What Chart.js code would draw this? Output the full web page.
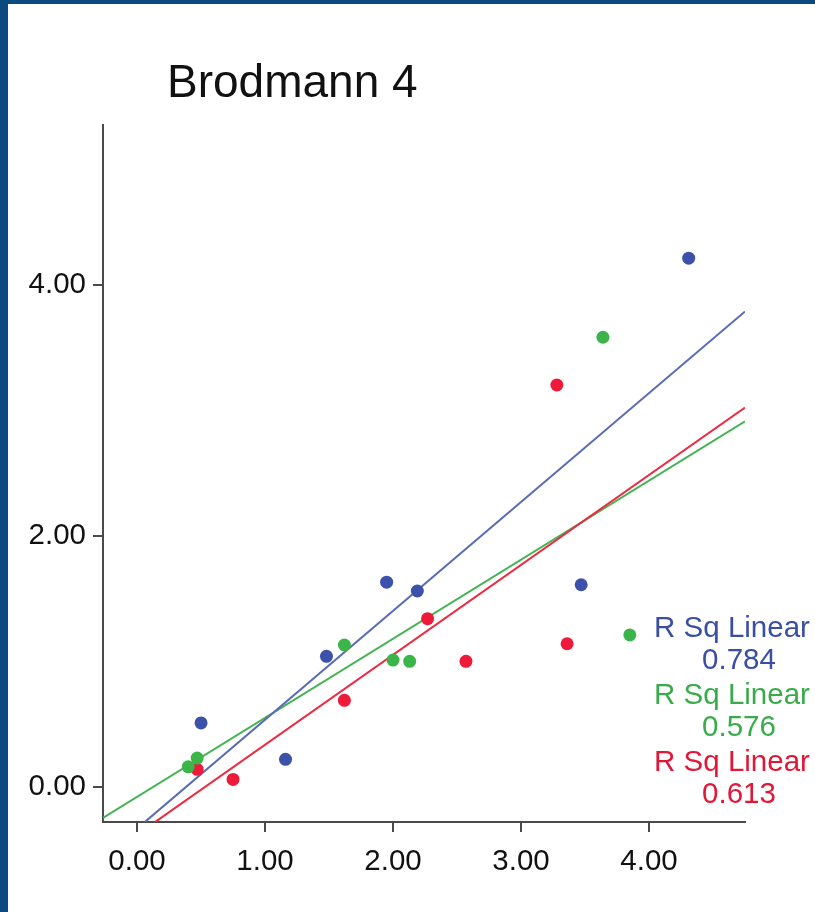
<!DOCTYPE html>
<html>
<head>
<meta charset="utf-8">
<script src="https://cdn.jsdelivr.net/npm/chart.js@4/dist/chart.umd.min.js"></script>
<style>
    html, body { margin: 0; padding: 0; background: #ffffff; }
    .frame {
        width: 807px;
        height: 908px;
        border-left: 8px solid #0b4a7f;
        border-top: 4px solid #0b4a7f;
        background: #ffffff;
    }
    canvas { display: block; }
</style>
</head>
<body>
<div class="frame">
    <canvas id="chart" width="807" height="908"></canvas>
</div>
<script>
// values
const TITLE = 'Brodmann 4';

const BLUE_POINTS = [
    { x: 4.31, y: 4.21 }, { x: 3.47, y: 1.61 }, { x: 2.19, y: 1.56 },
    { x: 1.95, y: 1.63 }, { x: 1.48, y: 1.04 }, { x: 0.50, y: 0.51 },
    { x: 1.16, y: 0.22 }
];
const GREEN_POINTS = [
    { x: 3.64, y: 3.58 }, { x: 3.85, y: 1.21 }, { x: 1.62, y: 1.13 },
    { x: 2.00, y: 1.01 }, { x: 2.13, y: 1.00 }, { x: 0.47, y: 0.23 },
    { x: 0.40, y: 0.16 }
];
const RED_POINTS = [
    { x: 3.28, y: 3.20 }, { x: 3.36, y: 1.14 }, { x: 2.27, y: 1.34 },
    { x: 2.57, y: 1.00 }, { x: 1.62, y: 0.69 }, { x: 0.75, y: 0.06 },
    { x: 0.47, y: 0.14 }
];

// fit line end points
const BLUE_FIT = [{ x: 0.06, y: -0.28 }, { x: 4.75, y: 3.785 }];
const GREEN_FIT = [{ x: -0.266, y: -0.247 }, { x: 4.75, y: 2.91 }];
const RED_FIT = [{ x: 0.14, y: -0.28 }, { x: 4.75, y: 3.02 }];

const RSQ_LABELS = ['0.784', '0.576', '0.613'];

const X_TICKS = [0, 1, 2, 3, 4];
const Y_TICKS = [0, 2, 4];

const FONT = '"Liberation Sans", Arial, Helvetica, sans-serif';
const BLUE = '#3c51a9';
const GREEN = '#3bb54a';
const RED = '#ee1a3a';
const AXIS = '#4a4a4a';

const overlayPlugin = {
    id: 'overlay',
    afterDraw(chart) {
        const ctx = chart.ctx;
        const area = chart.chartArea;
        ctx.save();

        // title
        ctx.fillStyle = '#111111';
        ctx.font = '46px ' + FONT;
        ctx.textAlign = 'left';
        ctx.textBaseline = 'alphabetic';
        ctx.fillText(TITLE, 159, 93);

        // R square labels
        const colors = ['#3a4ea3', '#3aab4b', '#e21636'];
        const cx = area.right - 13;
        ctx.font = '29.5px ' + FONT;
        ctx.textAlign = 'center';
        ctx.textBaseline = 'middle';
        RSQ_LABELS.forEach((val, i) => {
            const top = 625 + i * 67;
            ctx.fillStyle = colors[i];
            ctx.fillText('R Sq Linear', cx, top);
            ctx.fillText(val, cx + 7, top + 32);
        });
        ctx.restore();
    }
};

function fixedTicks(values) {
    return (scale) => {
        scale.ticks = values.map(v => ({ value: v }));
    };
}

const ctx = document.getElementById('chart').getContext('2d');
new Chart(ctx, {
    type: 'scatter',
    data: {
        datasets: [
            {
                type: 'line', data: RED_FIT, borderColor: '#ec2a42', borderWidth: 2,
                pointRadius: 0, fill: false, tension: 0, order: 4
            },
            {
                type: 'line', data: GREEN_FIT, borderColor: '#45b454', borderWidth: 2,
                pointRadius: 0, fill: false, tension: 0, order: 5
            },
            {
                type: 'line', data: BLUE_FIT, borderColor: '#5a6cb3', borderWidth: 2,
                pointRadius: 0, fill: false, tension: 0, order: 3
            },
            { data: RED_POINTS, backgroundColor: RED, pointRadius: 6.5, borderWidth: 0, order: 2 },
            { data: GREEN_POINTS, backgroundColor: GREEN, pointRadius: 6.5, borderWidth: 0, order: 1 },
            { data: BLUE_POINTS, backgroundColor: BLUE, pointRadius: 6.5, borderWidth: 0, order: 0 }
        ]
    },
    options: {
        responsive: false,
        animation: false,
        layout: { padding: { top: 121, right: 70, left: 0, bottom: 0 } },
        plugins: {
            legend: { display: false },
            tooltip: { enabled: false },
            title: { display: false }
        },
        scales: {
            x: {
                type: 'linear',
                min: -0.266,
                max: 4.75,
                afterBuildTicks: fixedTicks(X_TICKS),
                afterFit: (scale) => { scale.height = 90; },
                grid: {
                    display: true, drawOnChartArea: false, drawTicks: true,
                    tickLength: 10, color: AXIS, lineWidth: 2
                },
                border: { display: true, color: AXIS, width: 2 },
                ticks: {
                    color: '#111111',
                    font: { family: FONT, size: 29.5 },
                    padding: 12,
                    maxRotation: 0,
                    callback: (v) => Number(v).toFixed(2)
                }
            },
            y: {
                type: 'linear',
                min: -0.279,
                max: 5.27,
                afterBuildTicks: fixedTicks(Y_TICKS),
                afterFit: (scale) => { scale.width = 95; },
                grid: {
                    display: true, drawOnChartArea: false, drawTicks: true,
                    tickLength: 10, color: AXIS, lineWidth: 2
                },
                border: { display: true, color: AXIS, width: 2 },
                ticks: {
                    color: '#111111',
                    font: { family: FONT, size: 29.5 },
                    padding: 7,
                    callback: (v) => Number(v).toFixed(2)
                }
            }
        }
    },
    plugins: [overlayPlugin]
});
</script>
</body>
</html>
